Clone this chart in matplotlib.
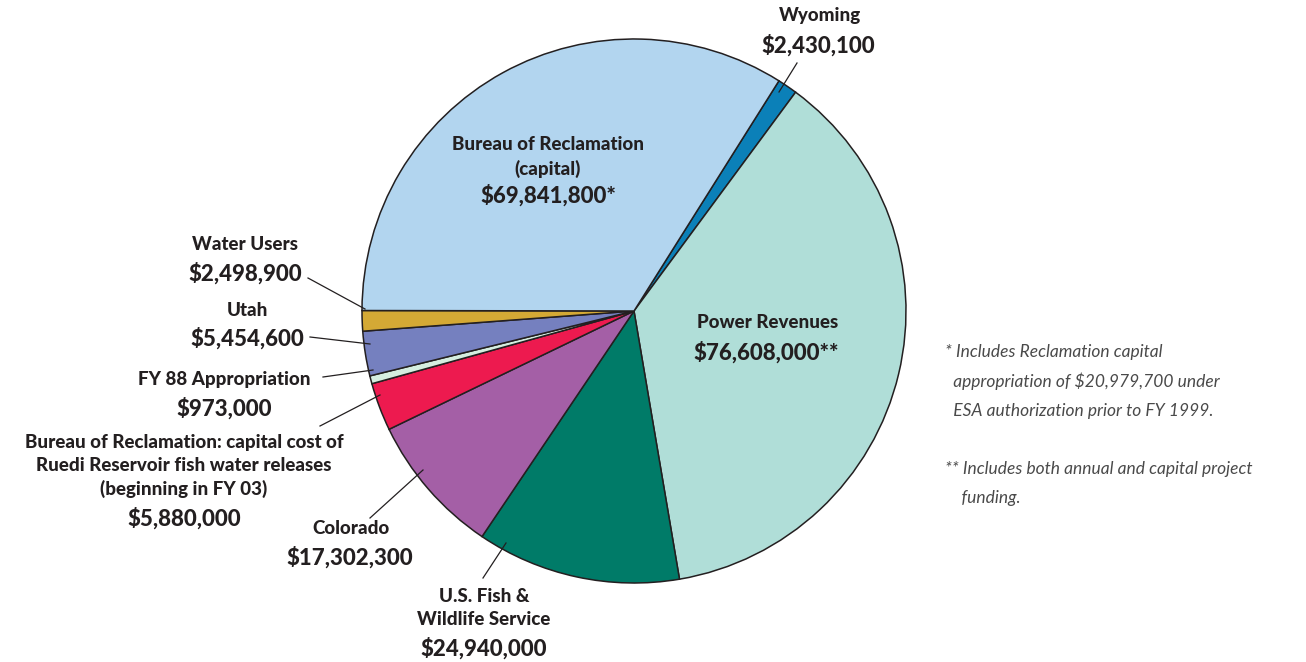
import matplotlib.pyplot as plt

# funding sources, clockwise from Wyoming
names = ['Wyoming', 'Power Revenues', 'U.S. Fish &\nWildlife Service', 'Colorado',
         'Bureau of Reclamation: capital cost of\nRuedi Reservoir fish water releases\n(beginning in FY 03)',
         'FY 88 Appropriation', 'Utah', 'Water Users', 'Bureau of Reclamation\n(capital)']
values = [2430100, 76608000, 24940000, 17302300, 5880000, 973000, 5454600, 2498900, 69841800]
value_labels = ['$2,430,100', '$76,608,000**', '$24,940,000', '$17,302,300', '$5,880,000',
                '$973,000', '$5,454,600', '$2,498,900', '$69,841,800*']
colors = ['#0b80b8', '#b0ded8', '#007b68', '#a45fa6', '#ed1a4f',
          '#d5eee0', '#7580bf', '#d4a935', '#b2d5ef']

footnotes = ['* Includes Reclamation capital', '  appropriation of $20,979,700 under',
             '  ESA authorization prior to FY 1999.', '',
             '** Includes both annual and capital project', '    funding.']

W, H = 1306, 662
fig = plt.figure(figsize=(W / 100, H / 100), dpi=100)
ax = fig.add_axes([0, 0, 1, 1])

txt = '#231f20'
ax.pie(values, colors=colors, startangle=57.8, counterclock=False,
       center=(634, H - 311), radius=272, frame=True,
       wedgeprops=dict(edgecolor=txt, linewidth=1.1))
ax.set_xlim(0, W)
ax.set_ylim(0, H)
ax.set_aspect('equal')
ax.axis('off')

fn = 'Lato'
name_kw = dict(ha='center', va='center', fontsize=13.5, fontweight='black', color=txt, family=fn)
val_kw = dict(ha='center', va='center', fontsize=16, fontweight='black', color=txt, family=fn)

# (name x, name y, value x, value y) in pixel coords from top
pos = [(820, 16, 818, 45),
       (768, 322, 766, 352),
       (484, 608, 484, 648),
       (351, 529, 350, 557),
       (184, 466, 184, 518),
       (224, 380, 224, 408),
       (247, 311, 247, 338),
       (245, 245, 245, 273),
       (548, 157, 548, 195)]
for n, v, (nx, ny, vx, vy) in zip(names, value_labels, pos):
    ax.text(nx, H - ny, n, linespacing=1.4, **name_kw)
    ax.text(vx, H - vy, v, **val_kw)

# leader lines
leaders = [((797, 63), (779, 92)),
           ((483, 578), (506, 543)),
           ((370, 518), (423, 470)),
           ((320, 426), (380, 395)),
           ((323, 377), (373, 370)),
           ((310, 337), (370, 344)),
           ((308, 278), (365, 309))]
for (x0, y0), (x1, y1) in leaders:
    ax.plot([x0, x1], [H - y0, H - y1], color=txt, linewidth=0.9)

for i, line in enumerate(footnotes):
    ax.text(945, H - 352 - i * 29.3, line, ha='left', va='center', fontsize=12.5,
            style='italic', color='#4a4a4a', family=fn)

plt.savefig('out.png', dpi=100)
